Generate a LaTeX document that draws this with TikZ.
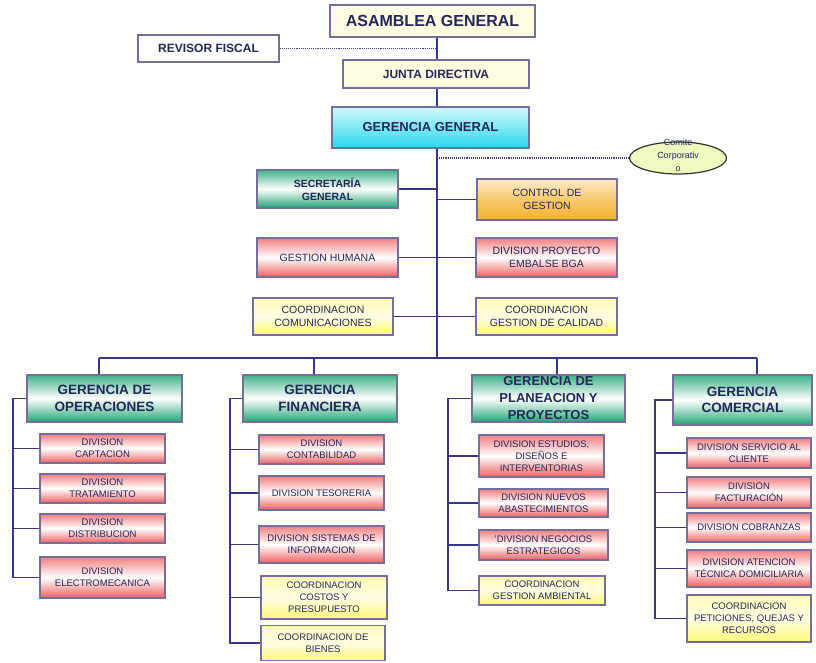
\documentclass[tikz,border=0pt]{standalone}
\usepackage{fontspec}
\setmainfont{Liberation Sans}
\usetikzlibrary{shapes.geometric}
\definecolor{navy}{RGB}{35,40,90}
\definecolor{edge}{RGB}{115,110,155}
\definecolor{wire}{RGB}{55,55,135}
\definecolor{cream}{RGB}{255,253,226}
\definecolor{grn}{RGB}{30,165,115}
\definecolor{rd}{RGB}{238,95,95}
\definecolor{yel}{RGB}{255,248,120}
\definecolor{org}{RGB}{245,178,45}
\definecolor{cyn}{RGB}{40,215,235}
\definecolor{comitefill}{RGB}{238,250,190}
\begin{document}
\begin{tikzpicture}[x=1pt, y=-1pt,
    box/.style={draw=edge, line width=1.2pt, text=navy, align=center, inner sep=1pt},
    creambox/.style={box, fill=cream},
    cyanbox/.style={box, top color=cyn!20, bottom color=cyn},
    greenbox/.style={box, top color=grn!85, bottom color=grn, middle color=white},
    redbox/.style={box, top color=rd!80, bottom color=rd, middle color=white},
    yellowbox/.style={box, top color=yel!55, bottom color=yel, middle color=yel!20},
    orangebox/.style={box, top color=org!25, bottom color=org, middle color=org!70},
    headtext/.style={font=\bfseries\fontsize{13.5}{16.5}\selectfont},
    midtext/.style={font=\fontsize{10.5}{13}\selectfont},
    divtext/.style={font=\fontsize{9.5}{12}\selectfont},
    link/.style={draw=wire, line width=1.1pt},
    dotlink/.style={draw=wire, line width=1.1pt, densely dotted}]
    \useasboundingbox (0,0) rectangle (816,663);

    \node[creambox, minimum width=205, minimum height=32, font=\bfseries\fontsize{16}{18}\selectfont] (asamblea) at (432.5,21) {ASAMBLEA GENERAL};
    \node[box, fill=white, minimum width=141, minimum height=27, font=\bfseries\fontsize{12}{14}\selectfont] (revisor) at (208.5,48.5) {REVISOR FISCAL};
    \node[creambox, minimum width=186, minimum height=28, font=\bfseries\fontsize{12}{14}\selectfont] (junta) at (436,74) {JUNTA DIRECTIVA};
    \node[cyanbox, minimum width=197, minimum height=41, font=\bfseries\fontsize{13}{15}\selectfont] (gergral) at (430.5,127.5) {GERENCIA GENERAL};
    \node[ellipse, draw=black!80, line width=1.2pt, fill=comitefill, minimum width=97, minimum height=32, inner sep=0pt, text=navy, font=\fontsize{9}{13}\selectfont] (comite) at (678,158) {\smash{\begin{tabular}{@{}c@{}}Comite\\Corporativ\\o\end{tabular}}};

    \node[greenbox, minimum width=141, minimum height=38, font=\bfseries\fontsize{10.5}{13}\selectfont] (secretaria) at (327.5,189) {SECRETARÍA\\GENERAL};
    \node[orangebox, midtext, minimum width=140, minimum height=41] (control) at (547,199.5) {CONTROL DE\\GESTION};
    \node[redbox, midtext, minimum width=141, minimum height=39] (humana) at (327.5,257.5) {GESTION HUMANA};
    \node[redbox, midtext, minimum width=141, minimum height=39] (embalse) at (546.5,257.5) {DIVISION PROYECTO\\EMBALSE BGA};
    \node[yellowbox, midtext, minimum width=140, minimum height=37] (comunic) at (323,316.5) {COORDINACION\\COMUNICACIONES};
    \node[yellowbox, midtext, minimum width=141, minimum height=37] (calidad) at (546.5,316.5) {COORDINACION\\GESTION DE CALIDAD};

    \node[greenbox, headtext, minimum width=155, minimum height=47] (gop) at (104.5,398.5) {GERENCIA DE\\OPERACIONES};
    \node[redbox, divtext, minimum width=125, minimum height=29] (capt) at (102.5,448.5) {DIVISION\\CAPTACION};
    \node[redbox, divtext, minimum width=125, minimum height=29] (trat) at (102.5,488.5) {DIVISION\\TRATAMIENTO};
    \node[redbox, divtext, minimum width=125, minimum height=29] (distr) at (102.5,528.5) {DIVISION\\DISTRIBUCION};
    \node[redbox, divtext, minimum width=125, minimum height=41] (electro) at (102.5,577.5) {DIVISION\\ELECTROMECANICA};

    \node[greenbox, headtext, minimum width=154, minimum height=47] (gfin) at (320,398.5) {GERENCIA\\FINANCIERA};
    \node[redbox, divtext, minimum width=125, minimum height=29] (contab) at (321.5,449.5) {DIVISION\\CONTABILIDAD};
    \node[redbox, divtext, minimum width=125, minimum height=34] (tesor) at (321.5,493) {DIVISION TESORERIA};
    \node[redbox, divtext, minimum width=125, minimum height=37] (sistemas) at (321.5,544.5) {DIVISION SISTEMAS DE\\INFORMACION};
    \node[yellowbox, divtext, minimum width=126, minimum height=43] (costos) at (324,597.5) {COORDINACION\\COSTOS Y\\PRESUPUESTO};
    \node[yellowbox, divtext, minimum width=124, minimum height=35] (bienes) at (323,643) {COORDINACION DE\\BIENES};

    \node[greenbox, font=\bfseries\fontsize{13}{17}\selectfont, inner ysep=0pt, minimum width=153, minimum height=47] (gplan) at (548.5,398.5) {GERENCIA DE\\PLANEACION Y\\PROYECTOS};
    \node[redbox, divtext, minimum width=125, minimum height=42] (estudios) at (541.5,456) {DIVISION ESTUDIOS,\\DISEÑOS E\\INTERVENTORIAS};
    \node[redbox, divtext, minimum width=129, minimum height=28] (abast) at (543.5,503) {DIVISION NUEVOS\\ABASTECIMIENTOS};
    \node[redbox, divtext, minimum width=129, minimum height=30] (negocios) at (543.5,545) {'DIVISION NEGOCIOS\\ESTRATEGICOS};
    \node[yellowbox, divtext, minimum width=126, minimum height=29] (ambiental) at (542,590.5) {COORDINACION\\GESTION AMBIENTAL};

    \node[greenbox, headtext, minimum width=139, minimum height=50] (gcom) at (742.5,400) {GERENCIA\\COMERCIAL};
    \node[redbox, divtext, minimum width=124, minimum height=30] (servicio) at (749,453) {DIVISION SERVICIO AL\\CLIENTE};
    \node[redbox, divtext, minimum width=124, minimum height=31] (factura) at (749,492.5) {DIVISION\\FACTURACIÓN};
    \node[redbox, divtext, minimum width=124, minimum height=29] (cobranza) at (749,527.5) {DIVISION COBRANZAS};
    \node[redbox, divtext, minimum width=124, minimum height=37] (atencion) at (749,568.5) {DIVISION ATENCION\\TÉCNICA DOMICILIARIA};
    \node[yellowbox, divtext, minimum width=124, minimum height=47] (peticion) at (749,618.5) {COORDINACION\\PETICIONES, QUEJAS Y\\RECURSOS};

    \coordinate (b0) at (437,358);
    \coordinate (b1) at (99,358);
    \coordinate (b2) at (314,358);
    \coordinate (b3) at (557,358);
    \coordinate (b4) at (757,358);
    \coordinate (s1) at (13,398.5);
    \coordinate (s2) at (230,398.5);
    \coordinate (s3) at (448,398.5);
    \coordinate (s4) at (655,400);

    \draw[link] (asamblea.south -| b0) -- (junta.north -| b0);
    \draw[link] (junta.south -| b0) -- (gergral.north -| b0);
    \draw[link] (gergral.south -| b0) -- (b0);
    \draw[dotlink] (revisor.east) -- (revisor.east -| b0);
    \draw[dotlink] (comite.west -| b0) -- (comite.west);
    \foreach \n in {secretaria,humana,comunic}
        \draw[link] (\n.east) -- (\n.east -| b0);
    \foreach \n in {control,embalse,calidad}
        \draw[link] (\n.west) -- (\n.west -| b0);

    \draw[link] (b1) -- (b4);
    \draw[link] (b1) -- (b1 |- gop.north);
    \draw[link] (b2) -- (b2 |- gfin.north);
    \draw[link] (b3) -- (b3 |- gplan.north);
    \draw[link] (b4) -- (b4 |- gcom.north);

    \draw[link] (gop.west) -- (s1) |- (electro.west);
    \foreach \n in {capt,trat,distr}
        \draw[link] (\n.west) -- (\n.west -| s1);
    \draw[link] (gfin.west) -- (s2) |- (bienes.west);
    \foreach \n in {contab,tesor,sistemas,costos}
        \draw[link] (\n.west) -- (\n.west -| s2);
    \draw[link] (gplan.west) -- (s3) |- (ambiental.west);
    \foreach \n in {estudios,abast,negocios}
        \draw[link] (\n.west) -- (\n.west -| s3);
    \draw[link] (gcom.west) -- (s4) |- (peticion.west);
    \foreach \n in {servicio,factura,cobranza,atencion}
        \draw[link] (\n.west) -- (\n.west -| s4);
\end{tikzpicture}
\end{document}
